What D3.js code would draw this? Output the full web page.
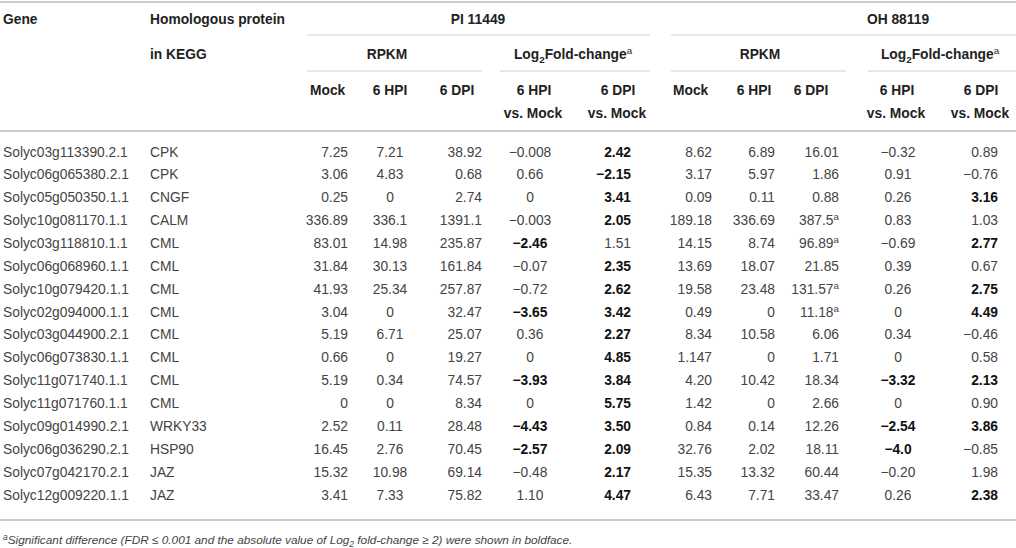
<!DOCTYPE html>
<html>
<head>
<meta charset="utf-8">
<script src="https://cdn.jsdelivr.net/npm/d3@7"></script>
<style>
  body { margin: 0; background: #fff; }
  svg { font-family: "Liberation Sans", Arial, Helvetica, sans-serif; }
</style>
</head>
<body>
<svg id="table"></svg>
<script>
const genes = [
  "Solyc03g113390.2.1", "Solyc06g065380.2.1", "Solyc05g050350.1.1", "Solyc10g081170.1.1",
  "Solyc03g118810.1.1", "Solyc06g068960.1.1", "Solyc10g079420.1.1", "Solyc02g094000.1.1",
  "Solyc03g044900.2.1", "Solyc06g073830.1.1", "Solyc11g071740.1.1", "Solyc11g071760.1.1",
  "Solyc09g014990.2.1", "Solyc06g036290.2.1", "Solyc07g042170.2.1", "Solyc12g009220.1.1"
];
const proteins = ["CPK", "CPK", "CNGF", "CALM", "CML", "CML", "CML", "CML",
  "CML", "CML", "CML", "CML", "WRKY33", "HSP90", "JAZ", "JAZ"];

// PI 11449
const piMock = ["7.25", "3.06", "0.25", "336.89", "83.01", "31.84", "41.93", "3.04",
  "5.19", "0.66", "5.19", "0", "2.52", "16.45", "15.32", "3.41"];
const piHpi = ["7.21", "4.83", "0", "336.1", "14.98", "30.13", "25.34", "0",
  "6.71", "0", "0.34", "0", "0.11", "2.76", "10.98", "7.33"];
const piDpi = ["38.92", "0.68", "2.74", "1391.1", "235.87", "161.84", "257.87", "32.47",
  "25.07", "19.27", "74.57", "8.34", "28.48", "70.45", "69.14", "75.82"];
const piLogHpi = ["-0.008", "0.66", "0", "-0.003", "-2.46", "-0.07", "-0.72", "-3.65",
  "0.36", "0", "-3.93", "0", "-4.43", "-2.57", "-0.48", "1.10"];
const piLogDpi = ["2.42", "-2.15", "3.41", "2.05", "1.51", "2.35", "2.62", "3.42",
  "2.27", "4.85", "3.84", "5.75", "3.50", "2.09", "2.17", "4.47"];

// OH 88119
const ohMock = ["8.62", "3.17", "0.09", "189.18", "14.15", "13.69", "19.58", "0.49",
  "8.34", "1.147", "4.20", "1.42", "0.84", "32.76", "15.35", "6.43"];
const ohHpi = ["6.89", "5.97", "0.11", "336.69", "8.74", "18.07", "23.48", "0",
  "10.58", "0", "10.42", "0", "0.14", "2.02", "13.32", "7.71"];
const ohDpi = ["16.01", "1.86", "0.88", "387.5", "96.89", "21.85", "131.57", "11.18",
  "6.06", "1.71", "18.34", "2.66", "12.26", "18.11", "60.44", "33.47"];
const ohLogHpi = ["-0.32", "0.91", "0.26", "0.83", "-0.69", "0.39", "0.26", "0",
  "0.34", "0", "-3.32", "0", "-2.54", "-4.0", "-0.20", "0.26"];
const ohLogDpi = ["0.89", "-0.76", "3.16", "1.03", "2.77", "0.67", "2.75", "4.49",
  "-0.46", "0.58", "2.13", "0.90", "3.86", "-0.85", "1.98", "2.38"];

// OH 6 DPI values carrying the "a" mark
const ohDpiMarked = ["Solyc10g081170.1.1", "Solyc03g118810.1.1", "Solyc10g079420.1.1", "Solyc02g094000.1.1"];

const groups = ["PI 11449", "OH 88119"];
const subGroups = ["RPKM", "Log2Fold-change"];
const timeLabels = ["Mock", "6 HPI", "6 DPI", "6 HPI", "6 DPI"];

// ---- layout ----
const width = 1016, height = 548;
const fs = 13.8;

const svg = d3.select("#table")
    .attr("width", width)
    .attr("height", height);

// column layout: x and anchor for data and headers
const columns = [
  {key: "piMock",   vals: piMock,   x: 348, anchor: "end",    hx: 310, hanchor: "start"},
  {key: "piHpi",    vals: piHpi,    x: 390, anchor: "middle", hx: 390, hanchor: "middle"},
  {key: "piDpi",    vals: piDpi,    x: 482, anchor: "end",    hx: 457, hanchor: "middle"},
  {key: "piLogHpi", vals: piLogHpi, x: 530, anchor: "middle", hx: 534, hanchor: "middle", log: true},
  {key: "piLogDpi", vals: piLogDpi, x: 631, anchor: "end",    hx: 618, hanchor: "middle", log: true},
  {key: "ohMock",   vals: ohMock,   x: 712, anchor: "end",    hx: 673, hanchor: "start"},
  {key: "ohHpi",    vals: ohHpi,    x: 775, anchor: "end",    hx: 754, hanchor: "middle"},
  {key: "ohDpi",    vals: ohDpi,    x: 839, anchor: "end",    hx: 811, hanchor: "middle", marks: ohDpiMarked},
  {key: "ohLogHpi", vals: ohLogHpi, x: 898, anchor: "middle", hx: 897, hanchor: "middle", log: true},
  {key: "ohLogDpi", vals: ohLogDpi, x: 998, anchor: "end",    hx: 981, hanchor: "middle", log: true}
];

const yRow = d3.scalePoint()
    .domain(genes)
    .range([156.5, 499.5]);

const rule = (x1, x2, y, w, c) => svg.append("line")
    .attr("x1", x1).attr("x2", x2).attr("y1", y).attr("y2", y)
    .attr("stroke", c).attr("stroke-width", w);

// horizontal rules
rule(0, width, 2, 1.6, "#bdbdbd");
rule(0, width, 131, 1.6, "#bdbdbd");
rule(0, width, 520, 1.6, "#bdbdbd");
rule(307, 650, 35, 1.2, "#cfcfcf");
rule(671, width, 35, 1.2, "#cfcfcf");
rule(307, 482, 71, 1.2, "#cfcfcf");
rule(500, 650, 71, 1.2, "#cfcfcf");
rule(671, 846, 71, 1.2, "#cfcfcf");
rule(868, width, 71, 1.2, "#cfcfcf");

// ---- header ----
const head = svg.append("g")
    .attr("font-size", fs)
    .attr("font-weight", "bold")
    .attr("fill", "#222");

const headText = (x, y, anchor, txt) => head.append("text")
    .attr("x", x).attr("y", y).attr("text-anchor", anchor).text(txt);

headText(3, 24, "start", "Gene");
headText(150, 24, "start", "Homologous protein");
headText(150, 59, "start", "in KEGG");
headText(478, 24, "middle", groups[0]);
headText(898, 24, "middle", groups[1]);

[{x: 387}, {x: 760}].forEach(d => headText(d.x, 59, "middle", subGroups[0]));
[{x: 573}, {x: 940}].forEach(d => {
  const t = head.append("text")
      .attr("x", d.x).attr("y", 59).attr("text-anchor", "middle");
  t.append("tspan").text("Log");
  t.append("tspan").attr("font-size", 9.8).attr("dy", 4).text("2");
  t.append("tspan").attr("dy", -4).text("Fold-change");
  t.append("tspan").attr("font-size", 9.8).attr("font-weight", "normal").attr("dy", -5).text("a");
});

columns.forEach((c, i) => {
  headText(c.hx, 95, c.hanchor, timeLabels[i % 5]);
  if (c.log) headText(c.hx - 1, 118, "middle", "vs. Mock");
});

// ---- body ----
const body = svg.append("g").attr("font-size", fs);

body.selectAll("text.gene")
  .data(genes)
  .join("text")
    .attr("class", "gene")
    .attr("x", 3)
    .attr("y", d => yRow(d))
    .attr("fill", "#444")
    .text(d => d);

body.selectAll("text.prot")
  .data(proteins)
  .join("text")
    .attr("class", "prot")
    .attr("x", 150)
    .attr("y", (d, i) => yRow(genes[i]))
    .attr("fill", "#444")
    .text(d => d);

columns.forEach(c => {
  const cells = body.selectAll(`text.${c.key}`)
    .data(c.vals.map((v, i) => ({v, gene: genes[i]})))
    .join("text")
      .attr("class", c.key)
      .attr("x", c.x)
      .attr("y", d => yRow(d.gene))
      .attr("text-anchor", c.anchor);

  cells.each(function(d) {
    const bold = c.log && Math.abs(parseFloat(d.v)) >= 2;
    const t = d3.select(this)
        .attr("font-weight", bold ? "bold" : "normal")
        .attr("fill", bold ? "#111" : "#444");
    t.append("tspan").text(d.v.replace("-", "\u2212"));
    if (c.marks && c.marks.includes(d.gene)) {
      t.append("tspan").attr("font-size", 9.8).attr("dy", -5).text("a");
    }
  });
});

// ---- footnote ----
const note = svg.append("text")
    .attr("x", 3)
    .attr("y", 544)
    .attr("font-size", 11.8)
    .attr("font-style", "italic")
    .attr("fill", "#444");
note.append("tspan").attr("font-size", 8.5).attr("dy", -4).text("a");
note.append("tspan").attr("dy", 4).text("Significant difference (FDR \u2264 0.001 and the absolute value of Log");
note.append("tspan").attr("font-size", 8.5).attr("dy", 3).text("2");
note.append("tspan").attr("dy", -3).text(" fold-change \u2265 2) were shown in boldface.");
</script>
</body>
</html>
